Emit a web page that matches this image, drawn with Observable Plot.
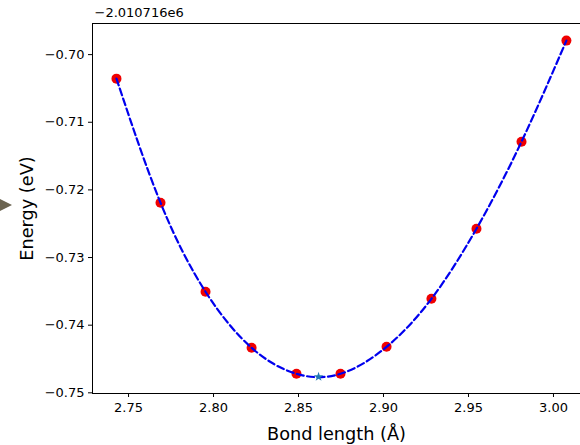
<!DOCTYPE html>
<html>
<head>
<meta charset="utf-8">
<script src="https://cdn.jsdelivr.net/npm/d3@7"></script>
<script src="https://cdn.jsdelivr.net/npm/@observablehq/plot@0.6"></script>
<style>
  html, body { margin: 0; padding: 0; background: #fff; }
  #wrap { position: relative; width: 580px; height: 445px; overflow: hidden; }
  #arrow { position: absolute; left: 0; top: 199px; width: 0; height: 0; z-index: 5;
    border-top: 6px solid transparent; border-bottom: 6px solid transparent;
    border-left: 12px solid #6b6450; }
</style>
</head>
<body>
<div id="wrap"><div id="arrow"></div></div>
<script>
const bondLengths = [2.7429, 2.7688, 2.7953, 2.8224, 2.8488, 2.8747, 2.9018, 2.9282, 2.9547, 2.9812, 3.0076];
const energies = [-0.70355, -0.72189, -0.73506, -0.74334, -0.74719, -0.74719, -0.74320, -0.73610, -0.72574, -0.71287, -0.69793];
const minBond = [2.8618];
const minEnergy = [-0.74763];
const xTicks = [2.75, 2.80, 2.85, 2.90, 2.95, 3.00];
const yTicks = [-0.75, -0.74, -0.73, -0.72, -0.71, -0.70];
const offsetText = "\u22122.010716e6";
const xLabel = "Bond length (Å)";
const yLabel = "Energy (eV)";

const pts = bondLengths.map((x, i) => ({x, y: energies[i]}));
const minPt = minBond.map((x, i) => ({x, y: minEnergy[i]}));
const xDom = [2.7288, 3.0159];
const yDom = [-0.7501, -0.6954];

const chart = Plot.plot({
  width: 580,
  height: 445,
  marginLeft: 92,
  marginRight: 0,
  marginTop: 23,
  marginBottom: 52,
  style: {fontFamily: "DejaVu Sans", fontSize: "13px", color: "#000", background: "#fff"},
  x: {domain: xDom, ticks: xTicks, tickFormat: d3.format(".2f"), tickSize: 4, tickPadding: 5, label: null},
  y: {domain: yDom, ticks: yTicks, tickFormat: d3.format(".2f"), tickSize: 4, tickPadding: 4, label: null},
  marks: [
    Plot.ruleX([xDom[0]], {stroke: "#000", strokeWidth: 1}),
    Plot.ruleY([yDom[0], yDom[1]], {stroke: "#000", strokeWidth: 1}),
    Plot.dot(pts, {x: "x", y: "y", r: 5, fill: "#f00000", stroke: "none"}),
    Plot.line(pts, {x: "x", y: "y", curve: "natural", stroke: "#0000ee", strokeWidth: 2.2, strokeDasharray: "7,3.5"}),
    Plot.dot(minPt, {x: "x", y: "y", symbol: "star", r: 3, fill: "#1f77b4", stroke: "none"}),
    Plot.text([offsetText], {frameAnchor: "top-left", dx: 2, dy: -16, text: d => d, fontSize: 13, textAnchor: "start"}),
    Plot.text([xLabel], {frameAnchor: "bottom", dy: 46, text: d => d, fontSize: 17.7}),
    Plot.text([yLabel], {frameAnchor: "left", dx: -65, text: d => d, fontSize: 17.7, rotate: -90, textAnchor: "middle"})
  ]
});
document.getElementById("wrap").appendChild(chart);
chart.style.position = "absolute";
chart.style.left = "0";
chart.style.top = "0";
</script>
</body>
</html>
